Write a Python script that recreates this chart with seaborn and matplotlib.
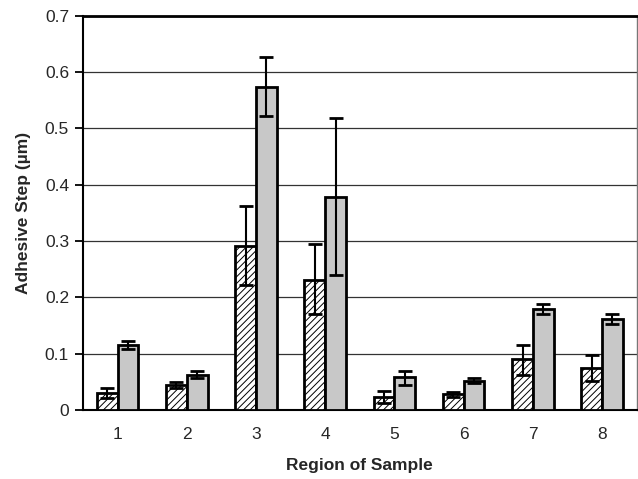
import numpy as np
import pandas as pd
import seaborn as sns
import matplotlib
matplotlib.use("Agg")
import matplotlib.pyplot as plt
from matplotlib.ticker import FixedLocator, NullFormatter

regions = ["1", "2", "3", "4", "5", "6", "7", "8"]
series = ["A", "B"]
hatched_vals = [0.030, 0.044, 0.292, 0.231, 0.023, 0.028, 0.090, 0.074]
hatched_hi = [0.039, 0.050, 0.362, 0.294, 0.033, 0.032, 0.116, 0.098]
hatched_lo = [0.022, 0.039, 0.222, 0.171, 0.013, 0.024, 0.062, 0.052]
gray_vals = [0.115, 0.062, 0.573, 0.379, 0.058, 0.052, 0.179, 0.162]
gray_hi = [0.123, 0.069, 0.627, 0.519, 0.070, 0.056, 0.188, 0.171]
gray_lo = [0.108, 0.056, 0.522, 0.239, 0.045, 0.048, 0.171, 0.153]
y_ticks = [0, 0.1, 0.2, 0.3, 0.4, 0.5, 0.6, 0.7]
y_tick_labels = ["0", "0.1", "0.2", "0.3", "0.4", "0.5", "0.6", "0.7"]

df = pd.DataFrame({
    "Region": regions * 2,
    "Series": [series[0]] * 8 + [series[1]] * 8,
    "Value": hatched_vals + gray_vals,
})

sns.set_theme(style="white")
plt.rcParams['font.family'] = ['Liberation Sans', 'DejaVu Sans']
plt.rcParams['hatch.linewidth'] = 0.7

fig = plt.figure(figsize=(6.38, 4.79), dpi=100)
ax = fig.add_axes([0.130, 0.144, 0.868, 0.823])

sns.barplot(data=df, x="Region", y="Value", hue="Series", order=regions,
            hue_order=series, palette={"A": "white", "B": "#c8c8c8"},
            width=0.6, edgecolor="black", linewidth=2.0, legend=False,
            errorbar=None, ax=ax, zorder=3)

bars_a = ax.patches[:8]
bars_b = ax.patches[8:16]
for p in bars_a:
    p.set_hatch("/////")
    p.set_edgecolor("black")

xa = [p.get_x() + p.get_width() / 2 for p in bars_a]
xb = [p.get_x() + p.get_width() / 2 for p in bars_b]
ea = [np.array(hatched_vals) - np.array(hatched_lo), np.array(hatched_hi) - np.array(hatched_vals)]
eb = [np.array(gray_vals) - np.array(gray_lo), np.array(gray_hi) - np.array(gray_vals)]
ax.errorbar(xa, hatched_vals, yerr=ea, fmt="none", ecolor="black", elinewidth=1.5,
            capsize=5, capthick=2.0, zorder=4)
ax.errorbar(xb, gray_vals, yerr=eb, fmt="none", ecolor="black", elinewidth=1.5,
            capsize=5, capthick=2.0, zorder=4)

ax.set_ylim(0, 0.7)
ax.set_xlim(-0.5, 7.5)
ax.set_yticks(y_ticks)
ax.set_yticklabels(y_tick_labels)
ax.yaxis.grid(True, color="#333333", linewidth=0.9, zorder=0)
ax.set_axisbelow(True)

ax.xaxis.set_minor_locator(FixedLocator(np.arange(-0.5, 8.0, 1.0)))
ax.xaxis.set_minor_formatter(NullFormatter())
ax.tick_params(axis="x", which="major", length=0, labelsize=12.5, pad=12)
ax.tick_params(axis="x", which="minor", length=6, width=1.3, color="black", direction="out")
ax.tick_params(axis="y", which="major", length=6, width=1.3, color="black",
               direction="out", labelsize=12.5, left=True, pad=4)

for side in ["left", "bottom", "top"]:
    ax.spines[side].set_color("black")
    ax.spines[side].set_linewidth(1.5)
ax.spines["top"].set_linewidth(2.0)
ax.spines["right"].set_color("#777777")
ax.spines["right"].set_linewidth(1.0)

ax.set_xlabel("Region of Sample", fontsize=12.5, fontweight="bold", labelpad=12)
ax.set_ylabel("Adhesive Step (µm)", fontsize=12.5, fontweight="bold", labelpad=10)

fig.savefig("out.png", dpi=100)
